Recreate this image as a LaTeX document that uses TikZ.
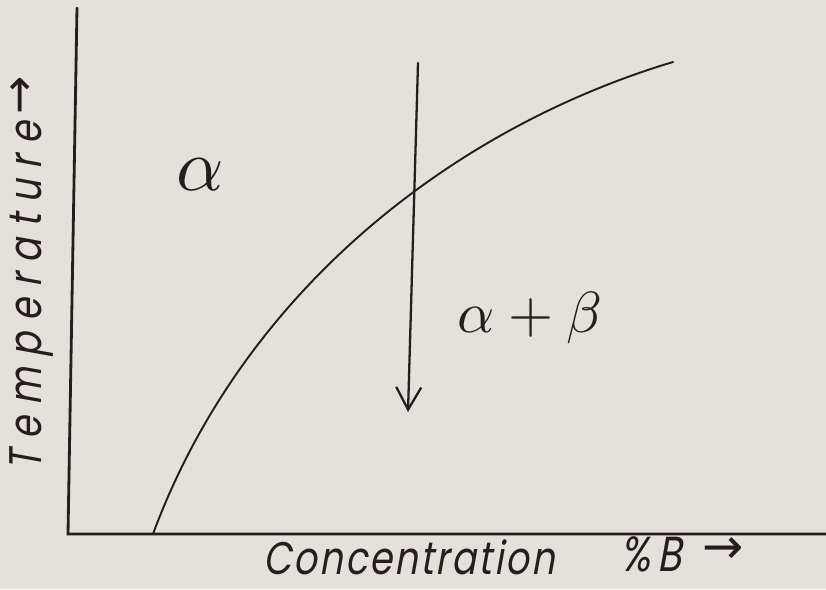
\documentclass[tikz,border=0pt]{standalone}
\usepackage{fontspec}
\newfontfamily\handfont[FakeSlant=0.18,FakeStretch=0.8,LetterSpace=5]{Poppins}
\newfontfamily\symfont{DejaVu Sans}
\usetikzlibrary{arrows.meta}
\definecolor{paper}{RGB}{227,225,216}
\definecolor{ink}{RGB}{38,30,28}
\tikzset{hand/.style={font=\handfont\fontsize{26}{30}\selectfont,inner sep=0pt}}
\newcommand{\upto}{\raisebox{4pt}{\symfont→}}

\begin{document}
\begin{tikzpicture}[>={Straight Barb[length=4.5mm,width=5mm]},line cap=round,ink]
\useasboundingbox[fill=paper](-1.36,-1.1)rectangle(15.16,10.68);
% axes
\draw[line width=1.6pt](0.18,10.52)--(0,0)--(15.16,0);
% solvus line
\draw[line width=1.1pt](1.70,0)..controls(3.5,4.86)and(7.7,8.12)..(12.10,9.44);
% cooling path
\coordinate(top)at(7.00,9.42);
\coordinate(bot)at(6.80,2.44);
\draw[->,line width=1.3pt](top)--(bot);
% phase fields
\node[scale=4.2](alpha)at(2.64,7.18){$\alpha$};
\node[scale=3.3](alphabeta)at(9.24,4.32){$\alpha+\beta$};
% axis labels
\node[hand,rotate=90](temp)at(-0.72,5.22){\addfontfeature{LetterSpace=24}Temperature\,\upto};
\node[hand,anchor=base](conc)at(6.82,-0.8){Concentration};
\node[hand,anchor=base](pct)at(12.28,-0.74){\fontsize{28}{32}\selectfont\%\hspace{4pt}B\hspace{12pt}\upto};
\end{tikzpicture}
\end{document}
